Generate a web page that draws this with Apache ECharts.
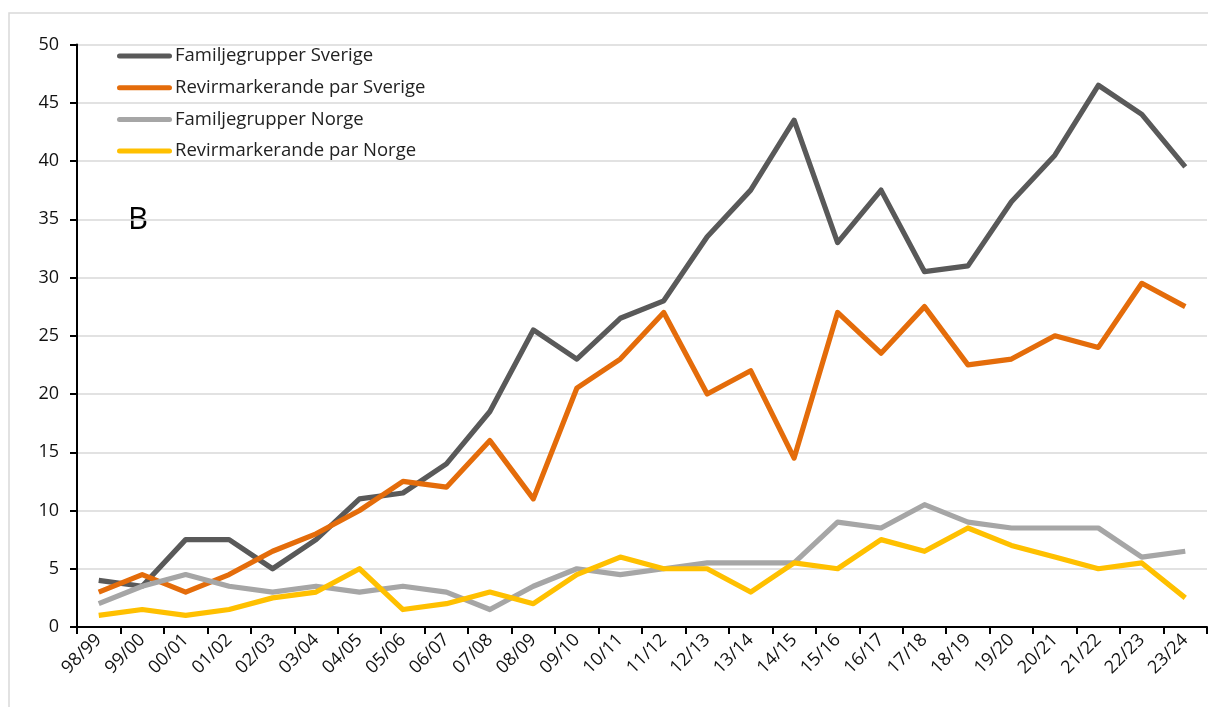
<!DOCTYPE html>
<html><head><meta charset="utf-8">
<script src="https://cdn.jsdelivr.net/npm/echarts@6/dist/echarts.min.js"></script>
<style>html,body{margin:0;padding:0;background:#fff}#c{width:1208px;height:707px}</style>
</head><body><div id="c"></div>
<script>
const categories = ['98/99','99/00','00/01','01/02','02/03','03/04','04/05','05/06','06/07','07/08','08/09','09/10','10/11','11/12','12/13','13/14','14/15','15/16','16/17','17/18','18/19','19/20','20/21','21/22','22/23','23/24'];
const famSverige = [4,3.5,7.5,7.5,5,7.5,11,11.5,14,18.5,25.5,23,26.5,28,33.5,37.5,43.5,33,37.5,30.5,31,36.5,40.5,46.5,44,39.5];
const revSverige = [3,4.5,3,4.5,6.5,8,10,12.5,12,16,11,20.5,23,27,20,22,14.5,27,23.5,27.5,22.5,23,25,24,29.5,27.5];
const famNorge = [2,3.5,4.5,3.5,3,3.5,3,3.5,3,1.5,3.5,5,4.5,5,5.5,5.5,5.5,9,8.5,10.5,9,8.5,8.5,8.5,6,6.5];
const revNorge = [1,1.5,1,1.5,2.5,3,5,1.5,2,3,2,4.5,6,5,5,3,5.5,5,7.5,6.5,8.5,7,6,5,5.5,2.5];
const seriesNames = ['Familjegrupper Sverige','Revirmarkerande par Sverige','Familjegrupper Norge','Revirmarkerande par Norge'];
const colors = ['#595959','#E46C0A','#A6A6A6','#FFC000'];
const dataSets = [famSverige, revSverige, famNorge, revNorge];
const FONT = '"Open Sans", sans-serif';
const LEG_ICON = 'path://M2.5,0 L52.5,0 A2.5,2.5 0 0 1 52.5,5 L2.5,5 A2.5,2.5 0 0 1 2.5,0 Z';

const chart = echarts.init(document.getElementById('c'), null, {renderer:'canvas'});
chart.setOption({
  animation:false,
  backgroundColor:'#fff',
  textStyle:{fontFamily:FONT},
  grid:{left:77, right:1, top:44.5, bottom:80, containLabel:false},
  legend:{
    orient:'vertical', left:117, top:46, itemGap:11.7, padding:0,
    itemWidth:55, itemHeight:20,
    data:seriesNames.map((n,i)=>({name:n, icon:LEG_ICON, itemStyle:{color:colors[i]}})),
    textStyle:{fontSize:18.5, lineHeight:20, color:'#222', fontFamily:FONT, padding:[0,0,0,-2]},
    selectedMode:false
  },
  xAxis:{
    type:'category', data:categories, boundaryGap:true,
    axisLine:{lineStyle:{color:'#000', width:2}},
    axisTick:{show:true, length:7, lineStyle:{color:'#000', width:2}},
    axisLabel:{rotate:45, fontSize:18, color:'#111', margin:10, fontFamily:FONT, interval:0}
  },
  yAxis:{
    type:'value', min:0, max:50, interval:5,
    axisLine:{show:true, lineStyle:{color:'#000', width:2}},
    axisTick:{show:true, length:7, lineStyle:{color:'#000', width:2}},
    axisLabel:{fontSize:18, color:'#111', margin:18, fontFamily:FONT},
    splitLine:{lineStyle:{color:'#d9d9d9', width:1.5}}
  },
  graphic:[
    {type:'rect', shape:{x:9, y:13, width:1250, height:760}, style:{fill:null, stroke:'#d9d9d9', lineWidth:1.5}, z:-10, silent:true},
    {type:'text', left:128, top:205, style:{text:'B', fontSize:31, fill:'#000', fontFamily:FONT}}
  ],
  series:dataSets.map((d,i)=>({
    name:seriesNames[i], type:'line', data:d, symbol:'none',
    lineStyle:{color:colors[i], width:5.2, join:'round'},
    itemStyle:{color:colors[i]}
  }))
});
</script></body></html>
